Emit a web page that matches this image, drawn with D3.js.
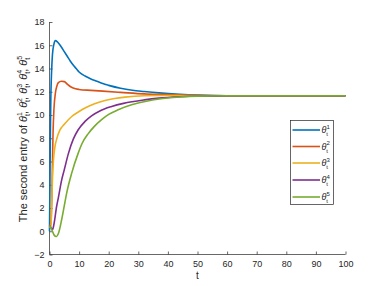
<!DOCTYPE html>
<html><head><meta charset="utf-8">
<script src="https://cdn.jsdelivr.net/npm/d3@7"></script>
<style>body{margin:0;background:#fff}svg{display:block}text{font-family:"Liberation Sans",Arial,sans-serif}</style>
</head><body><svg id="c" width="382" height="286"></svg>
<script>
const xTicks=[0,10,20,30,40,50,60,70,80,90,100];
const yTicks=[-2,0,2,4,6,8,10,12,14,16,18];
const seriesNames=["1","2","3","4","5"];
const colors=["#0072BD","#D95319","#EDB120","#7E2F8E","#77AC30"];
const t1=[0,0.15,0.3,0.45,0.6,0.8,1,1.5,2,3,4,5,6,7,8,9,10,12,14,16,18,20,24,28,32,37,44,50,60,100];
const v1=[0,4,8.5,11.5,13,14.3,15.2,16.1,16.4,16.2,15.85,15.45,15.05,14.65,14.3,14.0,13.7,13.35,13.1,12.9,12.7,12.55,12.3,12.13,12.02,11.9,11.78,11.71,11.66,11.65];
const t2=[0,0.4,0.6,0.8,1,1.2,1.5,2,2.5,3,4,5,6,7,8,10,14,18,24,32,37,44,50,60,100];
const v2=[0.5,0.6,1.2,3,6,8.5,10.5,11.9,12.5,12.78,12.9,12.87,12.65,12.45,12.32,12.2,12.12,12.05,11.95,11.82,11.77,11.72,11.69,11.66,11.65];
const t3=[0,0.5,0.7,1,1.3,1.8,2.5,3.5,5,7.5,10,12,15,18.75,22,25.5,32,37,44,60,100];
const v3=[0.3,0.5,2,4.5,6,7.2,8.0,8.7,9.2,9.87,10.3,10.6,10.95,11.25,11.42,11.54,11.66,11.68,11.67,11.65,11.65];
const t4=[0,0.5,1,1.5,2.4,3,4.1,5,6.4,8,9.7,12,14.2,17,21,25,32,37,44,50,60,100];
const v4=[0.5,0.3,0.13,0.6,2.13,2.9,4.4,5.3,6.7,7.9,8.73,9.45,9.93,10.35,10.73,11.0,11.3,11.45,11.57,11.63,11.65,11.65];
const t5=[0,0.5,1,1.5,2,2.4,3,4.1,5,5.8,7.5,9.7,11,13.1,15,17.6,20,23.2,28,32.3,37,44,50,60,100];
const v5=[0.5,0.3,0,-0.3,-0.43,-0.45,-0.2,0.99,2.2,3.28,5.0,6.72,7.55,8.4,8.98,9.6,10.05,10.45,10.9,11.16,11.38,11.55,11.62,11.65,11.65];
const T=[t1,t2,t3,t4,t5], V=[v1,v2,v3,v4,v5];

const svg=d3.select("#c");
const x=d3.scaleLinear().domain([0,100]).range([49.5,345.5]);
const y=d3.scaleLinear().domain([-2,18]).range([254.5,22]);
const axisCol="#262626";

const gx=svg.append("g").attr("transform","translate(0,254.5)")
 .call(d3.axisBottom(x).tickValues(xTicks).tickSize(-3).tickPadding(6).tickFormat(d3.format("d")));
const gy=svg.append("g").attr("transform","translate(49.5,0)")
 .call(d3.axisLeft(y).tickValues(yTicks).tickSize(-3).tickPadding(5).tickFormat(d3.format("d")));
[gx,gy].forEach(g=>{
 g.select(".domain").attr("stroke",axisCol).attr("stroke-width",0.7);
 g.selectAll(".tick line").attr("stroke",axisCol).attr("stroke-width",0.7);
 g.selectAll(".tick text").attr("fill",axisCol).attr("font-size",9).attr("font-family","Liberation Sans, Arial, sans-serif");
});
gx.select(".domain").attr("d","M49.5,0H345.5");
gy.select(".domain").attr("d","M0,254.5V22");

const line=d3.line().x(d=>x(d[0])).y(d=>y(d[1])).curve(d3.curveMonotoneX);
T.forEach((ts,i)=>{
 svg.append("path").datum(ts.map((t,j)=>[t,V[i][j]]))
  .attr("d",line).attr("fill","none").attr("stroke",colors[i]).attr("stroke-width",1.6);
});

svg.append("text").attr("x",197.5).attr("y",279).attr("text-anchor","middle")
 .attr("font-size",10).attr("fill",axisCol).text("t");

const yl=svg.append("text").attr("transform","translate(27,139) rotate(-90)")
 .attr("text-anchor","middle").attr("font-size",11).attr("fill",axisCol);
yl.append("tspan").text("The second entry of ");
seriesNames.forEach((n,i)=>{
 yl.append("tspan").attr("font-style","italic").text("θ");
 yl.append("tspan").attr("font-size",7).attr("dy",-5).text(n);
 yl.append("tspan").attr("font-size",7).attr("dx",-3.9).attr("dy",8).text("t");
 yl.append("tspan").attr("dy",-3).text(i<4?", ":"");
});

const lg=svg.append("g");
lg.append("rect").attr("x",290.5).attr("y",120.5).attr("width",43).attr("height",84)
 .attr("fill","#fff").attr("stroke",axisCol).attr("stroke-width",0.7);
const ly=[130,146.5,163,180,197];
seriesNames.forEach((n,i)=>{
 lg.append("line").attr("x1",292.5).attr("x2",320).attr("y1",ly[i]).attr("y2",ly[i])
  .attr("stroke",colors[i]).attr("stroke-width",1.6);
 const t=lg.append("text").attr("x",321.5).attr("y",ly[i]+3).attr("font-size",9).attr("fill",axisCol);
 t.append("tspan").attr("font-style","italic").text("θ");
 t.append("tspan").attr("font-size",6).attr("dy",-4.5).text(n);
 t.append("tspan").attr("font-size",6).attr("dx",-3.4).attr("dy",7.5).text("t");
});
</script></body></html>
